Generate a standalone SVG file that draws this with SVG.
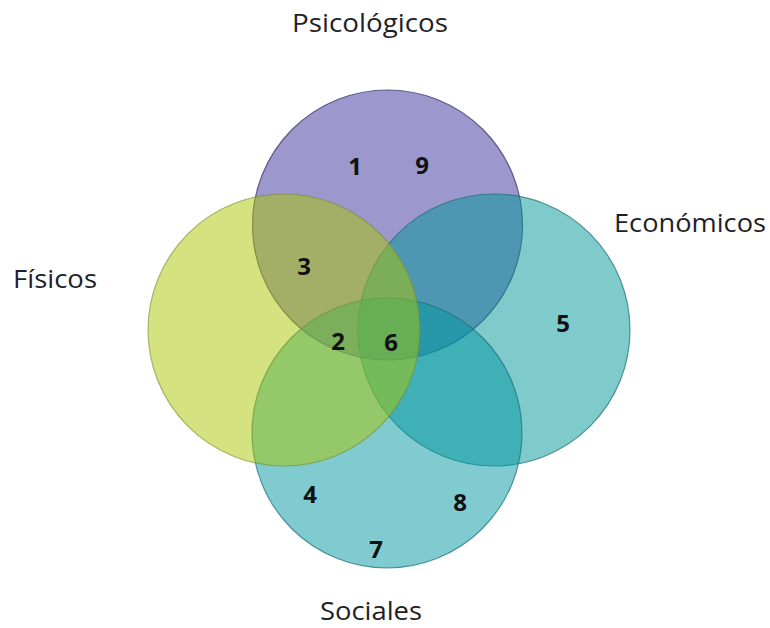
<svg xmlns="http://www.w3.org/2000/svg" width="770" height="628" viewBox="0 0 770 628">
<style>
.c{stroke-width:1.2}
.lbl{font-family:"Open Sans","Liberation Sans",sans-serif;font-size:25px;fill:#1f1f2a;text-anchor:middle}
.num{font-family:"Open Sans","Liberation Sans",sans-serif;font-size:24px;font-weight:bold;fill:#111;text-anchor:middle}
</style>
<rect width="770" height="628" fill="#fff"/>
<g id="psicologicos">
<circle class="c" cx="387.5" cy="225" r="135" fill="#3a2f9a" fill-opacity="0.5" stroke="#3e3e6e" stroke-opacity="0.8"/>
</g>
<g id="economicos">
<circle class="c" cx="494" cy="330" r="136" fill="#009797" fill-opacity="0.5" stroke="#1e6e74" stroke-opacity="0.7"/>
</g>
<g id="sociales">
<circle class="c" cx="387" cy="433" r="135" fill="#0097a1" fill-opacity="0.5" stroke="#1e6e74" stroke-opacity="0.7"/>
</g>
<g id="fisicos">
<circle class="c" cx="284" cy="330" r="136" fill="#a9c500" fill-opacity="0.5" stroke="#7a8a30" stroke-opacity="0.6"/>
</g>
<g id="labels">
<text class="lbl" x="370" y="32" textLength="156" lengthAdjust="spacingAndGlyphs">Psicológicos</text>
<text class="lbl" x="55" y="288" textLength="84" lengthAdjust="spacingAndGlyphs">Físicos</text>
<text class="lbl" x="690" y="232" textLength="152" lengthAdjust="spacingAndGlyphs">Económicos</text>
<text class="lbl" x="371" y="620" textLength="102" lengthAdjust="spacingAndGlyphs">Sociales</text>
</g>
<g id="numbers">
<text class="num" x="355" y="175">1</text>
<text class="num" x="422" y="174">9</text>
<text class="num" x="304" y="275">3</text>
<text class="num" x="338" y="350">2</text>
<text class="num" x="391" y="351">6</text>
<text class="num" x="563" y="332">5</text>
<text class="num" x="310" y="503">4</text>
<text class="num" x="460" y="511">8</text>
<text class="num" x="376" y="558">7</text>
</g>
</svg>
